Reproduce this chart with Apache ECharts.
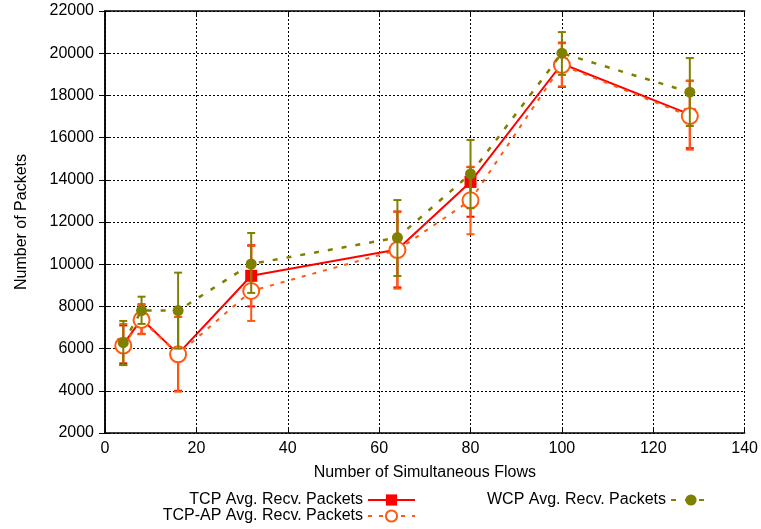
<!DOCTYPE html>
<html><head><meta charset="utf-8">
<script src="https://cdn.jsdelivr.net/npm/echarts@6/dist/echarts.min.js"></script>
<style>html,body{margin:0;padding:0;background:#fff}#c{width:761px;height:529px}</style>
</head><body><div id="c"></div>
<script>
const flows = [4, 8, 16, 32, 64, 80, 100, 128];
const tcp = [6200, 7400, 5750, 9450, 10700, 13900, 19500, 17100];
const tcpLow = [5300, 6700, 4000, 8000, 8900, 12250, 18400, 15500];
const tcpHigh = [7100, 8100, 7500, 10900, 12500, 14600, 20500, 18700];
const tcpAp = [6140, 7360, 5730, 8730, 10670, 13030, 19440, 17020];
const tcpApLow = [5220, 6680, 3960, 7310, 8840, 11420, 18430, 15430];
const tcpApHigh = [7170, 8070, 7500, 10860, 12470, 14620, 20470, 18680];
const wcp = [6280, 7800, 7800, 10010, 11260, 14280, 20000, 18150];
const wcpLow = [5220, 7170, 6000, 8640, 9440, 12650, 18970, 16550];
const wcpHigh = [7310, 8460, 9600, 11480, 13040, 15890, 21000, 19770];
const xTicks = [0, 20, 40, 60, 80, 100, 120, 140];
const yTicks = [2000, 4000, 6000, 8000, 10000, 12000, 14000, 16000, 18000, 20000, 22000];

const names = ['TCP Avg. Recv. Packets', 'TCP-AP Avg. Recv. Packets', 'WCP Avg. Recv. Packets'];
const cTCP = '#ff0000', cAP = '#ff5a10', cW = '#808000';
const FONT = 'Liberation Sans';

function pts(v){ return flows.map((x,i)=>[x, v[i]]); }
function errData(lo, hi){ return flows.map((x,i)=>[x, lo[i], hi[i]]); }
function errSeries(lo, hi, color, z){
  return {
    type: 'custom', z: z, silent: true,
    data: errData(lo, hi),
    encode: {x: 0, y: [1, 2]},
    renderItem: function(params, api){
      const x = api.value(0);
      const a = api.coord([x, api.value(1)]);
      const b = api.coord([x, api.value(2)]);
      const w = 4;
      const st = {stroke: color, lineWidth: 2};
      return {type: 'group', children: [
        {type: 'line', shape: {x1: a[0], y1: a[1], x2: b[0], y2: b[1]}, style: st},
        {type: 'line', shape: {x1: a[0]-w, y1: a[1], x2: a[0]+w, y2: a[1]}, style: st},
        {type: 'line', shape: {x1: b[0]-w, y1: b[1], x2: b[0]+w, y2: b[1]}, style: st}
      ]};
    }
  };
}

const gridLine = {show: true, lineStyle: {color: '#000', type: [2, 2], width: 1}};
const axisLine = {show: true, lineStyle: {color: '#000', width: 1.5}};
const tick = {show: true, inside: true, length: 6, lineStyle: {color: '#000', width: 1}};
const lbl = {color: '#000', fontFamily: FONT, fontSize: 16, formatter: function(v){ return String(v); }};
const legText = {color: '#000', fontFamily: FONT, fontSize: 16};

const chart = echarts.init(document.getElementById('c'), null, {renderer: 'canvas'});
chart.setOption({
  backgroundColor: '#fff',
  animation: false,
  grid: {left: 105, right: 16, top: 11, bottom: 96, containLabel: false},
  xAxis: [{
    type: 'value', min: xTicks[0], max: xTicks[xTicks.length-1], interval: 20,
    name: 'Number of Simultaneous Flows', nameLocation: 'middle', nameGap: 32,
    nameTextStyle: {color: '#000', fontFamily: FONT, fontSize: 16},
    axisLine: axisLine, axisTick: tick, splitLine: gridLine,
    axisLabel: Object.assign({margin: 8}, lbl)
  }, {
    type: 'value', position: 'top', min: xTicks[0], max: xTicks[xTicks.length-1], interval: 20,
    axisLine: axisLine, axisTick: tick, splitLine: {show: false}, axisLabel: {show: false}
  }],
  yAxis: [{
    type: 'value', min: yTicks[0], max: yTicks[yTicks.length-1], interval: 2000,
    name: 'Number of Packets', nameLocation: 'middle', nameGap: 75, nameRotate: 90,
    nameTextStyle: {color: '#000', fontFamily: FONT, fontSize: 16},
    axisLine: axisLine, axisTick: tick, splitLine: gridLine,
    axisLabel: Object.assign({margin: 11}, lbl)
  }, {
    type: 'value', position: 'right', min: yTicks[0], max: yTicks[yTicks.length-1], interval: 2000,
    axisLine: axisLine, axisTick: tick, splitLine: {show: false}, axisLabel: {show: false}
  }],
  legend: [
    {data: [names[0]], right: 340, top: 487, align: 'right', itemWidth: 47, itemHeight: 14,
     textStyle: legText, selectedMode: false},
    {data: [names[1]], right: 340, top: 503, align: 'right', itemWidth: 47, itemHeight: 14,
     textStyle: legText, selectedMode: false},
    {data: [names[2]], right: 44, top: 487, align: 'right', itemWidth: 40, itemHeight: 14,
     textStyle: legText, selectedMode: false}
  ],
  series: [
    errSeries(tcpLow, tcpHigh, cTCP, 2),
    {name: names[0], type: 'line', z: 3, data: pts(tcp), symbol: 'rect', symbolSize: 12,
     itemStyle: {color: cTCP}, lineStyle: {color: cTCP, width: 2}},
    errSeries(tcpApLow, tcpApHigh, cAP, 4),
    {name: names[1], type: 'line', z: 5, data: pts(tcpAp), symbol: 'emptyCircle', symbolSize: 16,
     itemStyle: {color: cAP, borderWidth: 3, borderColor: cAP}, lineStyle: {color: cAP, width: 2, type: [4, 7]}},
    errSeries(wcpLow, wcpHigh, cW, 6),
    {name: names[2], type: 'line', z: 7, data: pts(wcp), symbol: 'circle', symbolSize: 11,
     itemStyle: {color: cW}, lineStyle: {color: cW, width: 2.5, type: [5, 9]}}
  ]
});
</script></body></html>
